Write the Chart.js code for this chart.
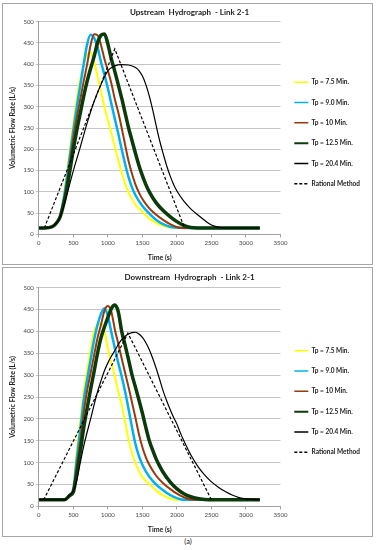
<!DOCTYPE html>
<html lang="en">
<head>
<meta charset="UTF-8">
<title>Hydrograph - Link 2-1</title>
<script src="https://cdn.jsdelivr.net/npm/chart.js"></script>
<style>
  body { margin:0; background:#fff; font-family: Lato, sans-serif; }
  .panel { position:absolute; left:2px; width:369px; border:1px solid #a6a6a6; background:#fff; }
  #p1 { top:3px; height:260px; }
  #p2 { top:267px; height:268px; }
  .cap { position:absolute; top:537px; left:0; width:376px; text-align:center; font-size:7.5px; color:#222; }
</style>
</head>
<body>
<div class="panel" id="p1"><canvas id="up" width="369" height="260"></canvas></div>
<div class="panel" id="p2"><canvas id="down" width="369" height="268"></canvas></div>
<div class="cap">(a)</div>

<script>
// series names and [time (s), flow (L/s)] points
const seriesNames = ['Tp = 7.5 Min.', 'Tp = 9.0 Min.', 'Tp = 10 Min.', 'Tp = 12.5 Min.', 'Tp = 20.4 Min.', 'Rational Method'];
const xTicks = [0, 3500, 500];
const yTicks = [0, 500, 50];

// upstream
const up75 = [[0,15],[80,15],[300,38],[350,80],[400,135],[450,200],[500,262],[550,318],[600,365],[650,400],[700,422],[750,428],[800,405],[850,372],[900,336],[950,300],[1000,268],[1050,238],[1100,206],[1150,175],[1200,145],[1250,120],[1300,98],[1400,70],[1500,53],[1600,37],[1700,27],[1800,20],[1900,16],[2000,15],[3200,15]];
const up90 = [[0,15],[80,15],[300,38],[350,75],[400,125],[450,185],[500,245],[550,300],[600,350],[650,400],[700,447],[750,469],[800,462],[850,440],[900,405],[950,375],[1000,343],[1050,307],[1100,272],[1150,237],[1200,200],[1250,165],[1300,134],[1350,110],[1400,92],[1500,67],[1600,49],[1700,34],[1800,24],[1900,18],[2000,16],[2100,15],[3200,15]];
const up10 = [[0,15],[80,15],[300,38],[350,70],[400,115],[450,170],[500,228],[550,275],[600,318],[650,360],[700,400],[750,445],[800,470],[850,468],[900,445],[950,412],[1000,385],[1050,355],[1100,318],[1150,287],[1200,250],[1250,210],[1300,172],[1350,142],[1400,117],[1450,98],[1500,83],[1600,61],[1700,46],[1800,34],[1900,24],[2000,17],[2100,15],[3200,15]];
const up125 = [[0,15],[80,15],[300,38],[350,65],[400,100],[450,150],[500,200],[550,245],[600,285],[650,325],[700,360],[750,390],[800,418],[850,450],[900,468],[950,471],[1000,447],[1050,412],[1100,383],[1150,352],[1200,320],[1250,285],[1300,250],[1350,220],[1400,190],[1450,162],[1500,138],[1550,117],[1600,100],[1700,74],[1800,56],[1900,42],[2000,30],[2100,21],[2200,16],[2300,15],[3200,15]];
const up204 = [[0,15],[80,15],[300,38],[400,90],[500,150],[600,205],[700,262],[800,312],[900,352],[1000,384],[1100,396],[1200,399],[1300,398],[1400,392],[1450,385],[1500,372],[1550,352],[1600,325],[1650,292],[1700,255],[1750,220],[1800,190],[1850,162],[1900,138],[1950,118],[2000,102],[2100,78],[2200,60],[2300,46],[2400,33],[2500,22],[2600,17],[2700,15],[3200,15]];
const upRat = [[80,15],[1100,436],[2110,15]];

// downstream
const dn75 = [[0,15],[370,15],[450,27],[500,42],[550,128],[600,193],[650,262],[700,310],[750,358],[800,400],[850,414],[900,418],[950,400],[1000,360],[1050,328],[1100,298],[1150,262],[1200,232],[1250,193],[1300,152],[1350,122],[1400,99],[1450,81],[1500,67],[1600,51],[1700,36],[1800,25],[1900,18],[2000,15],[3200,15]];
const dn90 = [[0,15],[370,15],[450,27],[500,40],[550,110],[600,175],[650,243],[700,290],[750,335],[800,380],[850,415],[900,440],[950,453],[1000,435],[1050,398],[1100,362],[1150,328],[1200,297],[1250,262],[1300,222],[1350,180],[1400,142],[1450,115],[1500,95],[1550,80],[1600,68],[1700,50],[1800,37],[1900,26],[2000,19],[2100,15],[3200,15]];
const dn10 = [[0,15],[370,15],[450,27],[500,38],[550,95],[600,150],[650,215],[700,265],[750,305],[800,345],[850,385],[900,415],[950,447],[1000,458],[1050,445],[1100,405],[1150,372],[1200,338],[1250,305],[1300,272],[1350,237],[1400,202],[1450,165],[1500,135],[1550,112],[1600,95],[1700,70],[1800,53],[1900,40],[2000,29],[2100,21],[2200,16],[2300,15],[3200,15]];
const dn125 = [[0,15],[370,15],[450,25],[500,33],[550,75],[600,125],[650,180],[700,225],[750,268],[800,308],[850,350],[900,385],[950,410],[1000,432],[1050,452],[1100,460],[1150,445],[1200,400],[1250,368],[1300,335],[1350,300],[1400,272],[1450,243],[1500,213],[1550,180],[1600,150],[1650,128],[1700,108],[1750,92],[1800,78],[1900,56],[2000,40],[2100,29],[2200,22],[2300,18],[2400,16],[2500,15],[3200,15]];
const dn204 = [[0,15],[370,15],[450,27],[500,35],[550,60],[600,100],[650,138],[700,170],[750,200],[800,232],[850,262],[900,287],[950,310],[1000,328],[1050,343],[1100,356],[1150,370],[1200,381],[1250,389],[1300,394],[1350,397],[1400,398],[1450,394],[1500,386],[1550,374],[1600,358],[1650,338],[1700,315],[1750,290],[1800,264],[1850,242],[1900,222],[1950,204],[2000,188],[2050,168],[2100,150],[2200,118],[2300,92],[2400,72],[2500,56],[2600,44],[2700,34],[2800,26],[2900,20],[3000,17],[3100,16],[3200,15]];
const dnRat = [[70,15],[1290,396],[2500,15]];

const styles = [
  { color: '#ffff00', width: 2, legendWidth: 1.5 },
  { color: '#00b0f0', width: 2.5, legendWidth: 1.5 },
  { color: '#9a3a0c', width: 2, legendWidth: 1.5 },
  { color: '#0b3a0b', width: 3.5, legendWidth: 2 },
  { color: '#000000', width: 1.2, legendWidth: 1.5 },
  { color: '#000000', width: 1.2, legendWidth: 1.5, dash: [3, 2] }
];

function toXY(arr) {
  return arr.map(p => ({ x: p[0], y: p[1] }));
}

function legendItems(chart) {
  return chart.data.datasets.map((ds, i) => ({
    text: ds.label,
    datasetIndex: i,
    fillStyle: styles[i].color,
    strokeStyle: styles[i].color,
    lineWidth: styles[i].legendWidth,
    lineDash: styles[i].dash || [],
    pointStyle: 'line',
    fontColor: '#222',
    hidden: false
  }));
}

function makeChart(id, title, series, pad, titleBottom) {
  const datasets = series.map((s, i) => ({
    label: seriesNames[i],
    data: toXY(s),
    borderColor: styles[i].color,
    backgroundColor: styles[i].color,
    borderWidth: styles[i].width,
    borderDash: styles[i].dash || [],
    pointRadius: 0,
    fill: false,
    cubicInterpolationMode: i === 5 ? 'default' : 'monotone',
    tension: 0,
    order: 6 - i
  }));

  new Chart(document.getElementById(id), {
    type: 'line',
    data: { datasets },
    options: {
      responsive: false,
      animation: false,
      layout: { padding: pad },
      plugins: {
        title: {
          display: true,
          text: title,
          color: '#222',
          font: { family: 'Lato', size: 8, weight: 'bold' },
          padding: { top: 4, bottom: titleBottom }
        },
        legend: {
          position: 'right',
          labels: {
            usePointStyle: true,
            pointStyle: 'line',
            pointStyleWidth: 14,
            boxHeight: 6,
            padding: 13.8,
            color: '#222',
            font: { family: 'Lato', size: 6.5, weight: 'bold' },
            generateLabels: legendItems
          }
        },
        tooltip: { enabled: false }
      },
      scales: {
        x: {
          type: 'linear',
          min: xTicks[0], max: xTicks[1],
          ticks: { stepSize: xTicks[2], color: '#444', font: { family: 'Lato', size: 6 }, padding: 2, maxRotation: 0, callback: v => String(v) },
          grid: { drawOnChartArea: false, tickLength: 3, color: '#a0a0a0' },
          border: { color: '#a0a0a0' },
          title: { display: true, text: 'Time (s)', color: '#222', font: { family: 'Lato', size: 7, weight: 'bold' }, padding: { top: 5, bottom: 0 } }
        },
        y: {
          min: yTicks[0], max: yTicks[1],
          ticks: { stepSize: yTicks[2], color: '#444', font: { family: 'Lato', size: 6 }, padding: 2 },
          grid: { color: '#c4c4c4', tickLength: 3 },
          border: { color: '#a0a0a0' },
          title: { display: true, text: 'Volumetric Flow Rate (L/s)', color: '#222', font: { family: 'Lato', size: 7, weight: 'bold' }, padding: { top: 0, bottom: 4 } }
        }
      }
    }
  });
}

makeChart('up', 'Upstream  Hydrograph  - Link 2-1', [up75, up90, up10, up125, up204, upRat], { left: 6, right: 2, top: 0, bottom: 2 }, 4);
makeChart('down', 'Downstream  Hydrograph  - Link 2-1', [dn75, dn90, dn10, dn125, dn204, dnRat], { left: 6, right: 2, top: 1, bottom: 2 }, 5);
</script>
</body>
</html>
